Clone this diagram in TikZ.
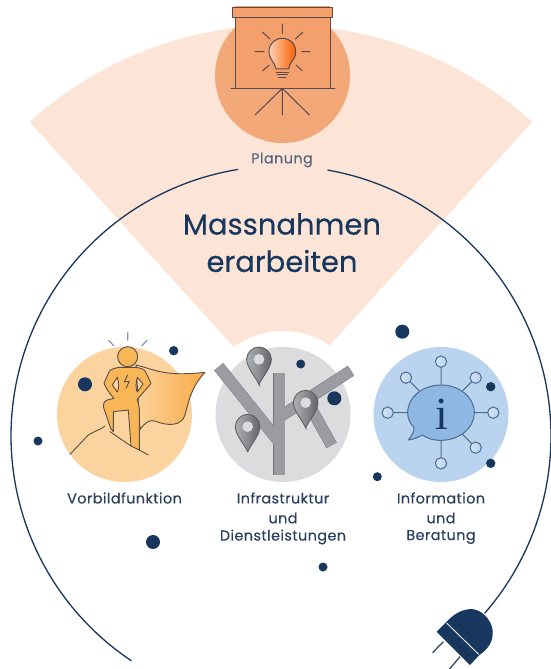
\documentclass[tikz,border=0pt]{standalone}
\usepackage{fontspec}
\setmainfont{Poppins}
\newfontfamily\titlefont{Poppins}[FakeBold=0.35]
\newfontfamily\labelfont{Poppins}[FakeBold=0.2,LetterSpace=3]
\newfontfamily\serifi{Liberation Serif}
\definecolor{navy}{HTML}{17375E}
\definecolor{lbl}{HTML}{2A3F5F}
\definecolor{peach}{HTML}{FCE5D6}
\definecolor{orangedisc}{HTML}{F2A878}
\definecolor{screenc}{HTML}{F3A06C}
\definecolor{darkline}{HTML}{5A4A4E}
\definecolor{yellowdisc}{HTML}{FAD39E}
\definecolor{hero}{HTML}{F9B656}
\definecolor{herol}{HTML}{5B4C45}
\definecolor{graydisc}{HTML}{DCDCDE}
\definecolor{road}{HTML}{9A9CA1}
\definecolor{roadl}{HTML}{74777D}
\definecolor{bluedisc}{HTML}{BAD3EE}
\definecolor{bubble}{HTML}{8FB7E3}
\definecolor{bluel}{HTML}{4A6D94}
\tikzset{
  disc/.style={circle,minimum size=135pt,inner sep=0pt,draw=none},
  dot/.style={fill=navy},
  thin line/.style={line width=1pt,line cap=round,line join=round},
  label text/.style={text=lbl,font=\labelfont\fontsize{14.4}{16}\selectfont,inner sep=0pt,anchor=center},
  title text/.style={text=navy,font=\titlefont\fontsize{29}{34}\selectfont,inner sep=0pt,anchor=center},
  roadband/.style={line width=10.8pt},
}
\newcommand{\pinmark}[2]{%
  \shade[left color=road!80!white,right color=roadl!85!black,draw=roadl!80!black,line width=0.9pt]
    (#1,#2+76) .. controls (#1-8,#2+55) and (#1-37,#2+25) .. (#1-37,#2)
    .. controls (#1-37,#2-20) and (#1-20,#2-37) .. (#1,#2-37)
    .. controls (#1+20,#2-37) and (#1+37,#2-20) .. (#1+37,#2)
    .. controls (#1+37,#2+25) and (#1+8,#2+55) .. cycle;
  \fill[graydisc] (#1,#2) circle[radius=16];
}
\begin{document}
\begin{tikzpicture}[x=1pt,y=-1pt]
\useasboundingbox (0,0) rectangle (551,669);
\fill[white] (0,0) rectangle (551,669);

% sector
\fill[peach] (281,399) -- plot[domain=-132.2:-47.8,samples=80] ({281+374*cos(\x)},{399+374*sin(\x)}) -- cycle;
\fill[white] (283,414) circle[radius=83];

% big ring
\draw[navy,line width=1.3pt,line cap=round] plot[domain=-80:41,samples=160] ({281+270*cos(\x)},{436+270*sin(\x)});
\draw[navy,line width=1.3pt,line cap=round] plot[domain=123.7:260.8,samples=160] ({281+270*cos(\x)},{436+270*sin(\x)});

% discs
\node[disc,fill=orangedisc] (planDisc) at (282.5,75.5) {};
\node[disc,fill=yellowdisc] (vorbildDisc) at (124.5,414.5) {};
\node[disc,fill=graydisc] (infraDisc) at (283,414.5) {};
\node[disc,fill=bluedisc] (infoDisc) at (441,414.5) {};

% dots
\foreach \px/\py/\pr in {173.7/350.7/4.7,85/384.3/7,38/441/4.5,300.7/364/4.5,334.3/398.3/7,402.3/331.7/7,490.7/386.7/4.7,490.7/463.3/4.7,377.3/476.7/4.5,153/542/7,323/567/4.5}
  \fill[dot] (\px,\py) circle[radius=\pr];

% projector
\begin{scope}[shift={(190,0)},scale=1/3]
  \fill[screenc] (135,17) rectangle (420,265);
  \draw[darkline,thin line] (135,52) -- (135,265) (420,52) -- (420,265);
  \draw[darkline,thin line,fill=screenc] (127,22) rectangle (428,52);
  \draw[darkline,thin line] (123,265) -- (435,265);
  \draw[darkline,thin line] (195,345) -- (277,265) -- (358,345) (277,265) -- (277,345);
  \shade[left color=screenc!50!white,right color=orange!75!red,draw=darkline,line width=1pt]
    (258,207) .. controls (255,185) and (237,180) .. (237,155)
    .. controls (237,130) and (255,115) .. (277,115)
    .. controls (300,115) and (317,130) .. (317,155)
    .. controls (317,180) and (298,185) .. (296,207) -- cycle;
  \draw[darkline,thin line] (258,218) -- (296,218) (262,225) -- (292,225) (266,232) -- (288,232);
  \draw[darkline,thin line] (277,72) -- (277,100) (195,155) -- (222,155) (335,155) -- (360,155)
    (218,97) -- (240,117) (338,97) -- (316,117) (218,212) -- (238,195) (336,212) -- (318,195);
\end{scope}

% hero
\begin{scope}[shift={(30,320)},scale=1/3]
  \draw[bluel!70!white,line width=1.2pt] (235,60) -- (252,78) (293,37) -- (293,62) (352,60) -- (335,78);
  \shade[left color=yellowdisc,right color=hero!80!orange,draw=herol,line width=0.9pt,line join=round]
    (318,135) .. controls (380,150) and (400,170) .. (525,157)
    .. controls (490,195) and (480,225) .. (465,285)
    .. controls (455,320) and (410,318) .. (375,303)
    .. controls (355,298) and (345,310) .. (330,328) -- cycle;
  \draw[herol,line width=0.9pt,line join=round,line cap=round]
    (120,403) -- (175,345) .. controls (190,335) and (210,330) .. (225,318)
    (240,335) -- (303,378) (328,390) -- (355,405);
  \filldraw[fill=hero,draw=herol,line width=0.9pt,line join=round,even odd rule]
    (268,142) .. controls (250,145) and (240,148) .. (236,158) -- (222,190)
    .. controls (228,205) and (240,222) .. (252,235) -- (232,240) .. controls (218,245) and (218,260) .. (224,272)
    -- (242,325) -- (250,335) -- (250,275) -- (295,270) -- (303,378) -- (328,390) -- (328,265) -- (322,238)
    -- (363,190) -- (348,158) .. controls (344,148) and (335,145) .. (318,142) -- cycle
    (262,172) .. controls (255,182) and (250,190) .. (247,195) -- (262,216) .. controls (268,205) and (266,185) .. (262,172) -- cycle
    (322,172) .. controls (330,180) and (335,188) .. (339,192) -- (322,216) .. controls (316,205) and (318,185) .. (322,172) -- cycle;
  \filldraw[fill=hero,draw=herol,line width=0.9pt] (293,110) circle[radius=30];
  \draw[herol,line width=0.9pt,line join=round] (293,165) -- (283,186) -- (298,184) -- (288,205);
\end{scope}

% infrastructure
\begin{scope}[shift={(205,330)},scale=1/3]
  \draw[roadl,line width=11.7pt] (41,110) -- (222,335);
  \draw[roadl,line width=11.7pt] (222,262) -- (438,122);
  \draw[roadl,line width=11.7pt] (318,235) -- (380,346);
  \draw[roadl,line width=11.7pt] (223,130) -- (223,435);
  \draw[road,roadband] (41,110) -- (222,335);
  \draw[road,roadband] (222,262) -- (438,122);
  \draw[road,roadband] (318,235) -- (380,346);
  \draw[road,roadband] (223,130) -- (223,435);
  \pinmark{162}{88}
  \pinmark{128}{290}
  \pinmark{302}{218}
\end{scope}

% information
\begin{scope}[shift={(365,330)},scale=1/3]
  \draw[bluel,line width=1pt] (228,248) -- (228,95) (228,248) -- (123,143) (228,248) -- (332,143)
    (228,248) -- (68,248) (228,248) -- (385,248) (228,248) -- (228,400) (228,248) -- (332,353);
  \foreach \cx/\cy in {228/95,123/143,332/143,68/248,385/248,228/400,332/353}
    \shade[left color=bluedisc!60!white,right color=bluedisc,draw=bluel,line width=1pt] (\cx,\cy) circle[radius=17];
  \filldraw[fill=bubble,draw=bluel,line width=1pt,line join=round]
    (130,330) .. controls (143,312) and (148,305) .. (147,292)
    .. controls (134,280) and (128,265) .. (128,248)
    .. controls (128,200) and (175,165) .. (228,165)
    .. controls (281,165) and (328,200) .. (328,248)
    .. controls (328,296) and (281,331) .. (228,331)
    .. controls (205,331) and (188,326) .. (172,315)
    .. controls (160,322) and (145,328) .. (130,330) -- cycle;
\end{scope}
\node[text=navy,font=\serifi\fontsize{46}{46}\selectfont,inner sep=0pt] (infoI) at (441.5,414) {i};

% plug
\begin{scope}[shift={(410,590)},scale=1/3]
  \begin{scope}
    \clip (0,0) rectangle (300,237);
    \draw[roadl!40!navy,line width=1.4pt] (100,155) -- (68,188) (150,200) -- (112,245);
  \end{scope}
  \fill[navy] (108,97) .. controls (140,62) and (170,55) .. (192,58)
    .. controls (225,65) and (250,100) .. (248,130)
    .. controls (248,160) and (230,180) .. (208,195) -- cycle;
  \fill[navy] (80,125) -- (108,97) -- (208,195) -- (180,225) -- cycle;
  \draw[white!85!navy,line width=1pt] (110,99) -- (206,193);
\end{scope}

% text
\node[label text,text=lbl!80!white] (planung) at (282,160) {Planung};
\node[title text] (title1) at (282,224) {Massnahmen};
\node[title text] (title2) at (282,261) {erarbeiten};
\node[label text] (vorbild) at (124.5,498) {Vorbildfunktion};
\node[label text] (infra1) at (283,498) {Infrastruktur};
\node[label text] (infra2) at (283,518) {und};
\node[label text] (infra3) at (283,537) {Dienstleistungen};
\node[label text] (info1) at (441,498) {Information};
\node[label text] (info2) at (441,518) {und};
\node[label text] (info3) at (441,537) {Beratung};
\end{tikzpicture}
\end{document}
